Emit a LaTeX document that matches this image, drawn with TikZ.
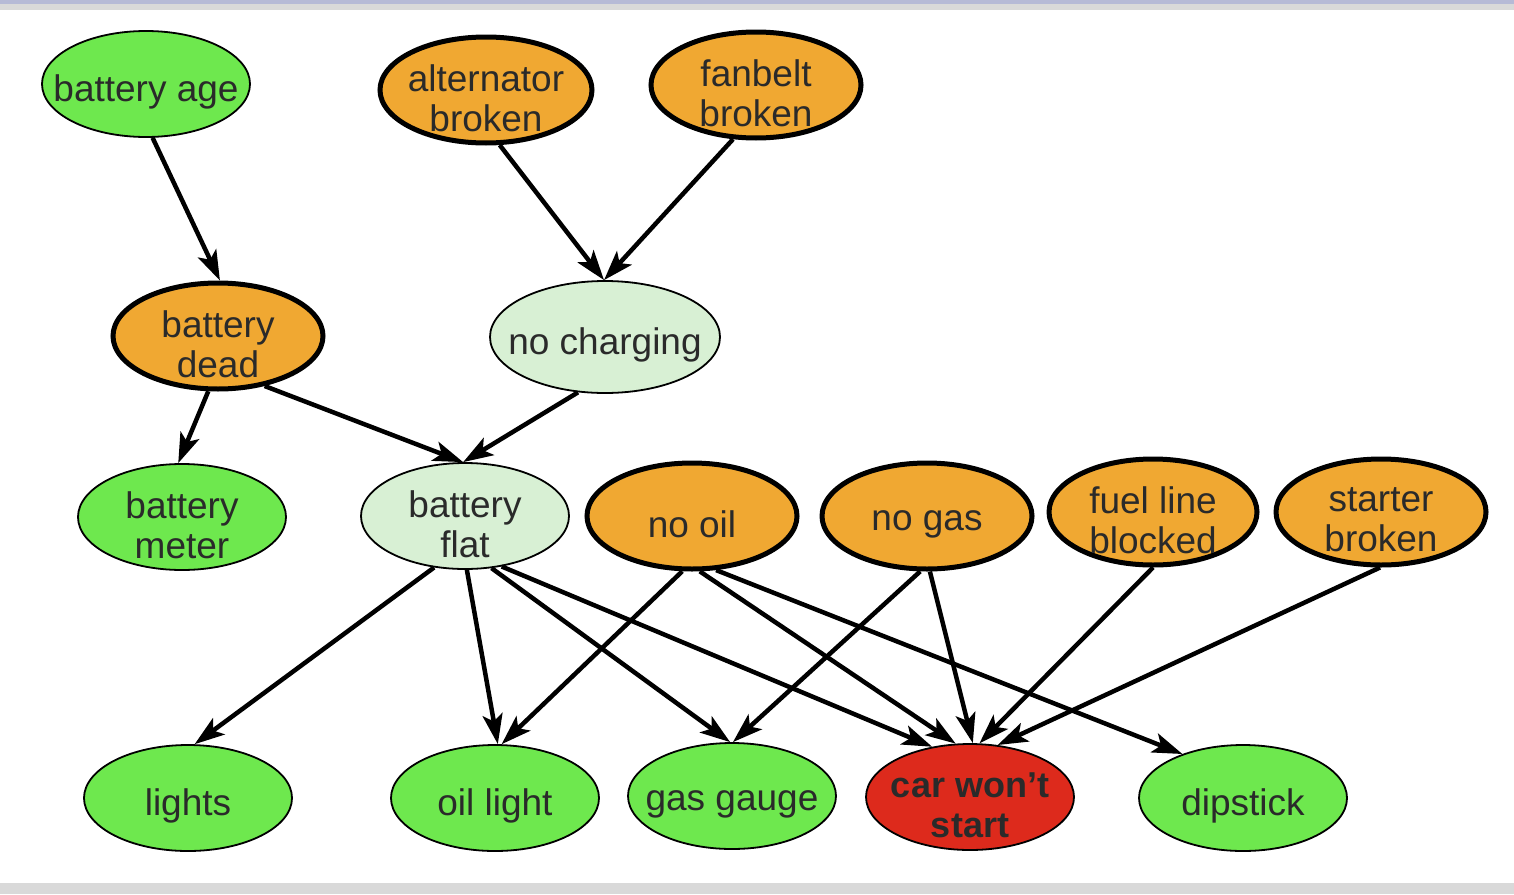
\documentclass[tikz,border=0pt]{standalone}
\usepackage{fontspec}
\setmainfont{Liberation Sans}
\usetikzlibrary{shapes.geometric,arrows.meta}
\definecolor{gfill}{HTML}{6EE84E}
\definecolor{ofill}{HTML}{F0A832}
\definecolor{pfill}{HTML}{D8F0D4}
\definecolor{rfill}{HTML}{DD2A1C}
\definecolor{txtcol}{HTML}{2A2A2A}
\definecolor{topband}{HTML}{B6BAD6}
\definecolor{grayband}{HTML}{D9D9D9}
\tikzset{
  base/.style={ellipse, inner sep=0pt, minimum width=208pt, minimum height=106pt},
  gnode/.style={base, fill=gfill, draw=black, line width=1.8pt},
  pnode/.style={base, fill=pfill, draw=black, line width=1.8pt},
  onode/.style={base, fill=ofill, draw=black, line width=5pt},
  rnode/.style={base, fill=rfill, draw=black, line width=1.8pt},
  lab/.style={align=center, text=txtcol, yshift=-8pt, font=\fontsize{37pt}{40pt}\selectfont},
  blab/.style={align=center, text=txtcol, yshift=-8pt, font=\fontsize{36pt}{40pt}\selectfont\bfseries},
  edge/.style={draw=black, line width=4.5pt, -{Stealth[length=30pt,width=20pt,inset=7pt]}}
}
\begin{document}
\begin{tikzpicture}[x=1pt,y=-1pt]
\useasboundingbox (0,0) rectangle (1514,894);
\fill[white] (0,0) rectangle (1514,894);
\fill[topband] (0,0) rectangle (1514,4);
\fill[grayband] (0,4) rectangle (1514,10);
\fill[grayband] (0,883) rectangle (1514,894);

% row 1
\node[gnode, label={[lab]center:battery age}] (ba) at (146,84) {};
\node[onode, minimum width=212pt, label={[lab]center:{alternator\\broken}}] (ab) at (486,90) {};
\node[onode, minimum width=210pt, label={[lab]center:{fanbelt\\broken}}] (fb) at (756,85) {};
% row 2
\node[onode, minimum width=210pt, label={[lab]center:{battery\\dead}}] (bd) at (218,336) {};
\node[pnode, minimum width=230pt, minimum height=112pt, label={[lab]center:no charging}] (nc) at (605,337) {};
% row 3
\node[gnode, label={[lab]center:{battery\\meter}}] (bm) at (182,517) {};
\node[pnode, label={[lab]center:{battery\\flat}}] (bf) at (465,516) {};
\node[onode, minimum width=210pt, label={[lab]center:no oil}] (no) at (692,516) {};
\node[onode, minimum width=210pt, label={[lab]center:no gas}] (ng) at (927,516) {};
\node[onode, label={[lab]center:{fuel line\\blocked}}] (fl) at (1153,512) {};
\node[onode, minimum width=210pt, label={[lab]center:{starter\\broken}}] (sb) at (1381,512) {};
% row 4
\node[gnode, label={[lab]center:lights}] (li) at (188,798) {};
\node[gnode, label={[lab]center:oil light}] (ol) at (495,798) {};
\node[gnode, label={[lab]center:gas gauge}] (gg) at (732,796) {};
\node[rnode, label={[blab]center:{car won't\\start}}] (cw) at (970,797) {};
\node[gnode, label={[lab]center:dipstick}] (ds) at (1243,798) {};

% edges
\draw[edge] (ba.-83) -- (bd.88);
\draw[edge] (ab.-76) -- (nc.91);
\draw[edge] (fb.-113) -- (nc.91);
\draw[edge] (bd.-100) -- (bm.94);
\draw[edge] (bd.-47) -- (bf.92);
\draw[edge] (nc.-116) -- (bf.92);
\draw[edge] (bf.-121) -- (li.83);
\draw[edge] (bf.-88) -- (ol.87);
\draw[edge] (bf.-63) -- (gg.92);
\draw[edge] (bf.-54) -- (cw.127);
\draw[edge] (no.-100) -- (ol.83);
\draw[edge] (no.-82) -- (cw.105);
\draw[edge] (no.-66) -- (ds.144);
\draw[edge] (ng.-97) -- (gg.89);
\draw[edge] (ng.-87) -- (cw.87);
\draw[edge] (fl.-90) -- (cw.80);
\draw[edge] (sb.-91) -- (cw.62);
\end{tikzpicture}
\end{document}
